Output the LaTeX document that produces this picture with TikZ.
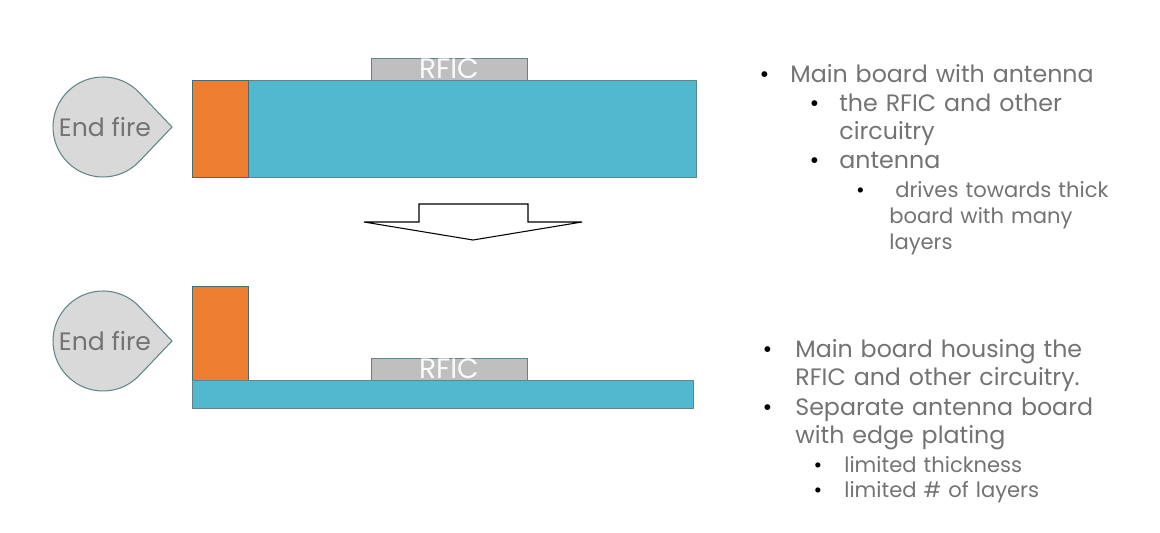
\documentclass[tikz,border=0pt]{standalone}
\usepackage{fontspec}
\setmainfont{Poppins}
\usetikzlibrary{positioning}
\definecolor{boardblue}{RGB}{82,184,208}
\definecolor{antorange}{RGB}{237,125,49}
\definecolor{chipgray}{RGB}{191,191,191}
\definecolor{dropgray}{RGB}{217,217,217}
\definecolor{edgeteal}{RGB}{95,135,135}
\definecolor{textgray}{RGB}{115,115,115}

% bullet hung left of the text, #1 = gap
\newcommand\hangbullet[1]{\llap{\textcolor{black}{\textbullet}\hspace{#1}}}

\begin{document}
\begin{tikzpicture}[x=0.02cm, y=-0.02cm,
    board/.style={fill=boardblue, draw=edgeteal, line width=0.5pt},
    antboard/.style={fill=antorange, draw=edgeteal!80!black, line width=0.5pt},
    chip/.style={fill=chipgray, draw=edgeteal, line width=0.5pt, minimum width=3.12cm, minimum height=0.44cm, inner sep=0pt, text=white!96!gray, font=\fontsize{16}{16}\selectfont},
    drop/.style={fill=dropgray, draw=edgeteal, line width=0.6pt},
    droptext/.style={text=textgray, font=\fontsize{14.3}{16}\selectfont},
    bigitem/.style={anchor=base west, inner sep=0pt, text width=8cm, align=left, text=textgray, font=\fontsize{13.5}{16.4}\selectfont},
    smallitem/.style={anchor=base west, inner sep=0pt, text width=8cm, align=left, text=textgray, font=\fontsize{12}{15}\selectfont}
]
\useasboundingbox (0,0) rectangle (1160,532);

% end fire drops
\foreach \cy/\nm in {127/Top,341/Bot}{
  \filldraw[drop] (172,\cy) -- (139.2,\cy-34.5) arc[start angle=-43.6, end angle=-316.4, radius=50] -- cycle;
  \node[droptext] (fire\nm) at (105,\cy) {End fire};
}

% before: antenna on main board
\draw[board] (248,80) rectangle (696,177);
\draw[antboard] (192,80) rectangle (248,177);
\node[chip] (rficTop) at (449,69) {RFIC};

% block arrow
\filldraw[fill=white, draw=black, line width=0.6pt] (419,204) -- (528,204) -- (528,222) -- (582,222) -- (473,240) -- (364,222) -- (419,222) -- cycle;

% after: separate antenna board
\draw[antboard] (192,286) rectangle (248,380);
\draw[board] (192,380) rectangle (693,408);
\node[chip] (rficBot) at (449,369) {RFIC};

% notes, before
\node[bigitem] (noteMain) at (790,82) {\hangbullet{0.42cm}Main board with antenna};
\node[bigitem] (noteRfic) at (839,111) {\hangbullet{0.4cm}the RFIC and other\\circuitry};
\node[bigitem] (noteAnt) at (839,168) {\hangbullet{0.4cm}antenna};
\node[smallitem] (noteThick) at (889,197) {\hangbullet{0.49cm}\hspace{0.12cm}drives towards thick\\board with many\\layers};

% notes, after
\node[bigitem] (noteHouse) at (795,357) {\hangbullet{0.46cm}Main board housing the\\RFIC and other circuitry.};
\node[bigitem] (noteSep) at (795,415) {\hangbullet{0.46cm}Separate antenna board\\with edge plating};
\node[smallitem] (noteLimThick) at (844,472) {\hangbullet{0.44cm}limited thickness};
\node[smallitem] (noteLimLayers) at (844,497) {\hangbullet{0.44cm}limited \# of layers};
\end{tikzpicture}
\end{document}
